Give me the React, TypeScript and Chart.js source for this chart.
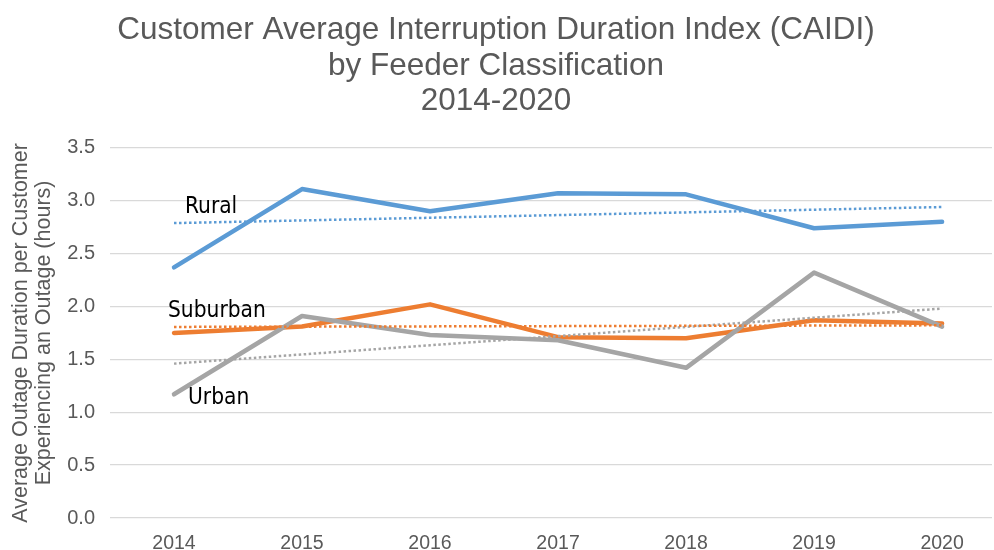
import React, { useEffect, useRef } from "react";
import { Chart, registerables } from "chart.js";

Chart.register(...registerables);

// ---- data ----
const years = ["2014", "2015", "2016", "2017", "2018", "2019", "2020"];
const rural = [2.37, 3.11, 2.9, 3.07, 3.06, 2.74, 2.8];
const suburban = [1.75, 1.81, 2.02, 1.71, 1.7, 1.87, 1.84];
const urban = [1.17, 1.91, 1.73, 1.68, 1.42, 2.32, 1.81];
const titleLines = [
  "Customer Average Interruption Duration Index (CAIDI)",
  "by Feeder Classification",
  "2014-2020",
];
const yTitleLines = ["Average Outage Duration per Customer", "Experiencing an Outage (hours)"];
const seriesNames = ["Rural", "Suburban", "Urban"];

const BLUE = "#5B9BD5";
const ORANGE = "#ED7D31";
const GRAY = "#A5A5A5";
const TEXT = "#595959";
const FONT = '"Liberation Sans", Arial, sans-serif';

// linear least-squares trendline (as in Excel's linear trendline)
function trendline(vals: number[]) {
  const n = vals.length;
  const mx = (n - 1) / 2;
  const my = vals.reduce((a, b) => a + b, 0) / n;
  let num = 0;
  let den = 0;
  vals.forEach((v, i) => {
    num += (i - mx) * (v - my);
    den += (i - mx) * (i - mx);
  });
  const slope = num / den;
  return vals.map((_, i) => ({ x: i, y: my + slope * (i - mx) }));
}

const toPoints = (vals: number[]) => vals.map((v, i) => ({ x: i, y: v }));

// series name labels placed near the first category
const nameLabels = [
  { text: seriesNames[0], yValue: 2.94, dx: 11, color: "#000" },
  { text: seriesNames[1], yValue: 1.96, dx: -6, color: "#000" },
  { text: seriesNames[2], yValue: 1.13, dx: 14, color: "#000" },
];

const labelPlugin = {
  id: "seriesNameLabels",
  afterDatasetsDraw(chart: any) {
    const { ctx, scales } = chart;
    const x0 = scales.x.getPixelForValue(0);
    ctx.save();
    ctx.font = '22.5px "Liberation Sans Narrow", "DejaVu Sans Condensed", "Open Sans", sans-serif';
    ctx.textAlign = "left";
    ctx.textBaseline = "middle";
    nameLabels.forEach((l) => {
      ctx.fillStyle = l.color;
      ctx.fillText(l.text, x0 + l.dx, scales.y.getPixelForValue(l.yValue));
    });
    ctx.restore();
  },
};

export default function App() {
  const ref = useRef<HTMLCanvasElement | null>(null);

  useEffect(() => {
    if (!ref.current) return;
    const solid = (label: string, data: number[], color: string, order: number) => ({
      label,
      data: toPoints(data),
      borderColor: color,
      backgroundColor: color,
      borderWidth: 4.5,
      pointRadius: 0,
      tension: 0,
      borderJoinStyle: "round" as const,
      borderCapStyle: "round" as const,
      order,
    });
    const dotted = (label: string, data: number[], color: string, order: number) => ({
      label,
      data: trendline(data),
      borderColor: color,
      backgroundColor: color,
      borderWidth: 2.5,
      borderDash: [2.5, 2.5],
      pointRadius: 0,
      tension: 0,
      order,
    });

    const chart = new Chart(ref.current, {
      type: "line",
      data: {
        datasets: [
          dotted("Rural trend", rural, BLUE, 1),
          dotted("Suburban trend", suburban, ORANGE, 2),
          dotted("Urban trend", urban, GRAY, 3),
          solid("Urban", urban, GRAY, 4),
          solid("Suburban", suburban, ORANGE, 5),
          solid("Rural", rural, BLUE, 6),
        ],
      },
      options: {
        animation: false,
        responsive: false,
        layout: { padding: { left: 0, right: 2, top: 0, bottom: 0 } },
        plugins: {
          legend: { display: false },
          tooltip: { enabled: false },
          title: {
            display: true,
            text: titleLines,
            color: TEXT,
            font: { family: FONT, size: 31.5, weight: "normal", lineHeight: 1.12 },
            padding: { top: 13, bottom: 29 },
          },
        },
        scales: {
          x: {
            type: "linear",
            min: -0.5,
            max: 6.39,
            grid: { display: false, drawTicks: false },
            border: { display: false },
            afterBuildTicks: (scale: any) => {
              scale.ticks = years.map((_, i) => ({ value: i }));
            },
            afterFit: (scale: any) => {
              scale.height = 32;
            },
            ticks: {
              color: TEXT,
              padding: 14,
              maxRotation: 0,
              autoSkip: false,
              font: { family: FONT, size: 19.5 },
              callback: (v: any) => years[v] ?? "",
            },
          },
          y: {
            min: 0,
            max: 3.5,
            grid: { color: "#D9D9D9", lineWidth: 1.3, drawTicks: false },
            border: { display: false },
            afterFit: (scale: any) => {
              scale.width = 110;
            },
            ticks: {
              stepSize: 0.5,
              color: TEXT,
              padding: 15,
              font: { family: FONT, size: 20 },
              callback: (v: any) => Number(v).toFixed(1),
            },
            title: {
              display: true,
              text: yTitleLines,
              color: TEXT,
              padding: { top: 9, bottom: 0 },
              font: { family: FONT, size: 21.5, lineHeight: 1.1 },
            },
          },
        },
      },
      plugins: [labelPlugin],
    } as any);

    return () => chart.destroy();
  }, []);

  return (
    <div style={{ position: "fixed", left: 0, top: 0, width: 994, height: 550, background: "#fff" }}>
      <canvas ref={ref} width={994} height={550} style={{ display: "block" }} />
    </div>
  );
}
